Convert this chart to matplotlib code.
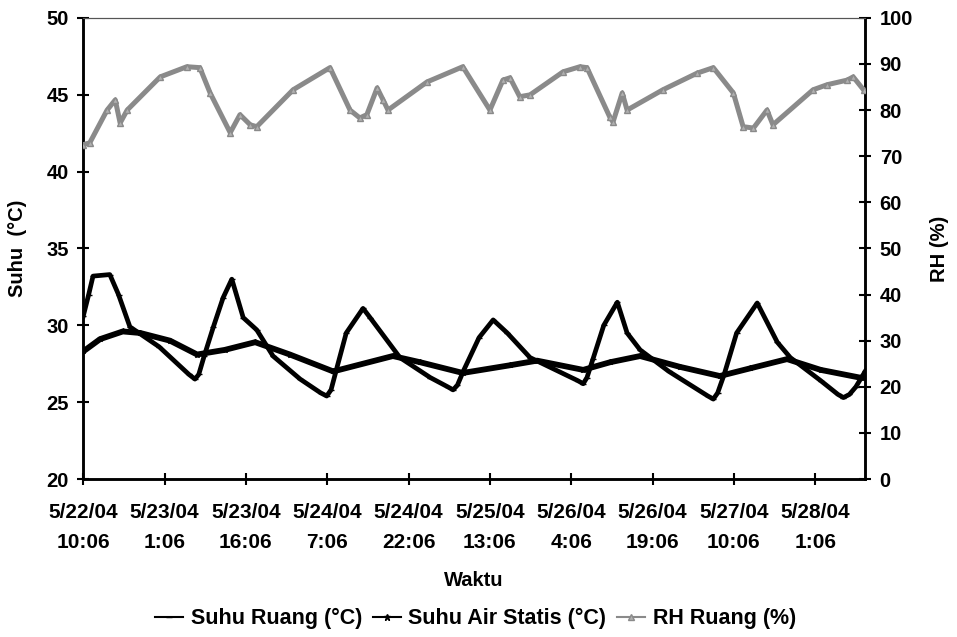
"""Suhu ruang, suhu air statis dan RH ruang terhadap waktu."""

import matplotlib
matplotlib.use("Agg")
import matplotlib.pyplot as plt
from matplotlib.lines import Line2D

# ---------------------------------------------------------------------------
# data (jam sejak 5/22/04 10:06)
# ---------------------------------------------------------------------------
ruang_jam = [0, 1.0, 1.8, 4.9, 6.5, 8.6, 14, 19.5, 20.6, 21.3, 22.3, 24.0,
             25.8, 27.4, 29.5, 32.0, 35, 40, 43.8, 44.9, 45.7, 46.6, 48.5,
             51.6, 52.9, 58.4, 64, 67.2, 68.2, 69.0, 70.2, 73, 75.6, 78.2,
             82.4, 91.2, 92.2, 92.9, 94.0, 96, 98.5, 100.3, 102.7, 108,
             115.2, 116.2, 117.0, 118.2, 120.5, 124.3, 128.0, 130.4, 136,
             139.2, 140.2, 141.3, 142.5, 144.2]
ruang_suhu = [30.6, 32.0, 33.2, 33.3, 32.0, 29.9, 28.6, 26.8, 26.5, 26.8,
              28.0, 29.9, 31.8, 33.0, 30.5, 29.7, 28.0, 26.5, 25.6, 25.4,
              25.8, 27.0, 29.5, 31.1, 30.5, 27.9, 26.6, 26.0, 25.8, 26.1,
              27.1, 29.2, 30.35, 29.5, 27.9, 26.4, 26.2, 26.6, 27.8, 30.0,
              31.5, 29.5, 28.4, 27.0, 25.4, 25.2, 25.6, 26.8, 29.5, 31.45,
              28.9, 27.9, 26.4, 25.5, 25.3, 25.5, 26.0, 27.0]

air_jam = [0, 3.1, 7.3, 10.5, 16.0, 21.0, 26.1, 31.7, 38.1, 46.1, 57.1,
           62.1, 70.0, 78.7, 83.7, 92.2, 97.2, 102.7, 110, 117.4, 123,
           129.8, 136, 143.2, 144.2]
air_suhu = [28.3, 29.1, 29.6, 29.5, 29.0, 28.1, 28.4, 28.9, 28.1, 27.0, 28.0,
            27.6, 26.9, 27.4, 27.7, 27.1, 27.6, 28.0, 27.3, 26.7, 27.2,
            27.8, 27.1, 26.6, 26.6]

rh_jam = [0, 1.2, 4.4, 5.9, 6.8, 8.1, 14.2, 19.1, 21.5, 23.4, 27.1, 28.9,
          30.8, 32.0, 38.7, 45.5, 49.2, 51.0, 52.3, 54.2, 55.3, 56.2, 63.4,
          70.0, 75.0, 77.4, 78.7, 80.5, 82.4, 88.5, 91.6, 92.9, 97.1, 97.7,
          99.4, 100.3, 106.9, 113.2, 116.2, 119.9, 121.7, 123.6, 126.1,
          127.2, 134.6, 137.2, 140.9, 142.0, 143.9]
rh_ruang = [72.5, 72.9, 80.0, 82.2, 77.2, 80.0, 87.2, 89.4, 89.2, 83.7, 75.1,
            79.0, 76.8, 76.4, 84.4, 89.2, 80.0, 78.3, 79.0, 84.8, 82.2, 80.0,
            86.1, 89.4, 80.0, 86.5, 87.0, 82.9, 83.3, 88.3, 89.4, 89.2, 78.5,
            77.4, 83.7, 80.0, 84.4, 88.0, 89.2, 83.7, 76.4, 76.1, 80.0, 76.8,
            84.4, 85.5, 86.5, 87.2, 84.4]

tick_jam = [0, 15, 30, 45, 60, 75, 90, 105, 120, 135]
tick_label = ["5/22/04\n10:06", "5/23/04\n1:06", "5/23/04\n16:06",
              "5/24/04\n7:06", "5/24/04\n22:06", "5/25/04\n13:06",
              "5/26/04\n4:06", "5/26/04\n19:06", "5/27/04\n10:06",
              "5/28/04\n1:06"]

# ---------------------------------------------------------------------------
# gaya
# ---------------------------------------------------------------------------
plt.rcParams["font.family"] = ["Liberation Sans", "DejaVu Sans"]
plt.rcParams["font.weight"] = "bold"
FS = 14.5
FS_X = 15
FS_LEG = 15.5
GRAY = "#8a8a8a"

fig = plt.figure(figsize=(9.57, 6.37), dpi=100)
ax = fig.add_axes([0.087, 0.248, 0.817, 0.724])
ax2 = ax.twinx()

ax.plot(ruang_jam, ruang_suhu, color="black", linewidth=3.4,
        marker="_", markersize=5, zorder=3)
ax.plot(air_jam, air_suhu, color="black", linewidth=4.2,
        marker="*", markersize=4, zorder=3)
ax2.plot(rh_jam, rh_ruang, color=GRAY, linewidth=3.6,
         marker="^", markersize=4.5, markerfacecolor="#b0b0b0",
         markeredgecolor=GRAY, zorder=3)

ax.set_xlim(0, 144.2)
ax.set_ylim(20, 50)
ax2.set_ylim(0, 100)
ax.set_yticks(range(20, 51, 5))
ax2.set_yticks(range(0, 101, 10))
ax.set_xticks(tick_jam)
ax.set_xticklabels(tick_label, fontsize=FS_X, fontweight="bold",
                   linespacing=1.7)

for a in (ax, ax2):
    a.tick_params(axis="both", direction="inout", length=9, width=1.5,
                  labelsize=FS, pad=6)
    for s in ("left", "right", "bottom"):
        a.spines[s].set_linewidth(1.8)
    a.spines["top"].set_linewidth(0.8)
    a.spines["top"].set_color("#555555")
ax.tick_params(axis="x", pad=13, labelsize=FS_X)

for lab in ax.get_yticklabels() + ax2.get_yticklabels():
    lab.set_fontweight("bold")

ax.set_ylabel("Suhu  (°C)", fontsize=FS, fontweight="bold", labelpad=14)
ax2.set_ylabel("RH (%)", fontsize=FS, fontweight="bold", labelpad=12)
ax.set_xlabel("Waktu", fontsize=FS, fontweight="bold", labelpad=14)

handles = [
    Line2D([], [], color="black", linewidth=1.5, marker="_", markersize=5),
    Line2D([], [], color="black", linewidth=1.5, marker="*", markersize=5),
    Line2D([], [], color=GRAY, linewidth=1.5, marker="^", markersize=4,
           markerfacecolor="#b0b0b0"),
]
labels = ["Suhu Ruang (°C)", "Suhu Air Statis (°C)", "RH Ruang (%)"]
fig.legend(handles, labels, loc="lower center", bbox_to_anchor=(0.497, -0.018),
           ncol=3, frameon=False, handlelength=1.3,
           handletextpad=0.35, columnspacing=0.5,
           prop={"weight": "bold", "size": FS_LEG})

fig.savefig("out.png", dpi=100)
